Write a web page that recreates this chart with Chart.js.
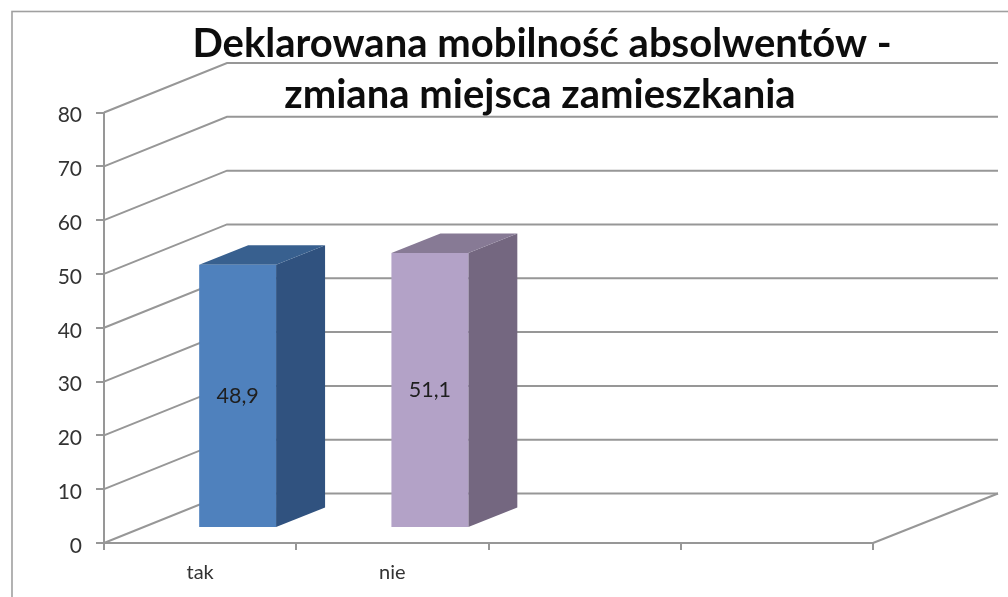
<!DOCTYPE html>
<html>
<head>
<meta charset="utf-8">
<title>Deklarowana mobilność absolwentów</title>
<script src="https://cdn.jsdelivr.net/npm/chart.js@4"></script>
<style>
    html, body { margin: 0; padding: 0; background: #fff; overflow: hidden; }
    canvas { display: block; }
</style>
</head>
<body>
<canvas id="chart" width="1008" height="597"></canvas>
<script>
// chart data
const titleLines = ['Deklarowana mobilność absolwentów -', 'zmiana miejsca zamieszkania'];
const categories = ['tak', 'nie', '', ''];
const values = [48.9, 51.1, null, null];
const frontColors = ['#4f81bd', '#b3a2c7'];
const sideColors = ['#30527f', '#746780'];
const topColors = ['#38608f', '#877a95'];

const lineColor = '#979797';
const fontName = 'Lato, "Noto Sans", sans-serif';

// 3D look: back wall offset, bar offset from the axis and bar depth
const wallDx = 123, wallDy = -49.5;
const barDx = 37.5, barDy = -15;
const depthDx = 49, depthDy = -19.5;

function fill4(ctx, color, pts) {
    ctx.fillStyle = color;
    ctx.beginPath();
    pts.forEach((p, i) => i ? ctx.lineTo(p[0], p[1]) : ctx.moveTo(p[0], p[1]));
    ctx.closePath();
    ctx.fill();
}

const fake3d = {
    id: 'fake3d',
    beforeDraw(chart) {
        // outer frame runs off the picture on the right and bottom
        const ctx = chart.ctx;
        ctx.save();
        ctx.strokeStyle = '#a0a0a0';
        ctx.lineWidth = 1.6;
        ctx.strokeRect(12, 11.5, 1100, 700);
        ctx.restore();
    },
    beforeDatasetsDraw(chart) {
        const ctx = chart.ctx;
        const y = chart.scales.y, area = chart.chartArea;
        ctx.save();
        // back wall lines
        ctx.strokeStyle = lineColor;
        ctx.lineWidth = 2;
        y.ticks.forEach(t => {
            const py = y.getPixelForValue(t.value);
            ctx.beginPath();
            ctx.moveTo(area.left, py);
            ctx.lineTo(area.left + wallDx, py + wallDy);
            ctx.lineTo(area.right + wallDx + 2, py + wallDy);
            ctx.stroke();
        });
        // floor edge on the right
        ctx.beginPath();
        ctx.moveTo(area.right, area.bottom);
        ctx.lineTo(area.right + wallDx + 2, area.bottom + wallDy);
        ctx.stroke();
        ctx.restore();

        // side and top of the bars, then the library draws the front face on top
        ctx.save();
        ctx.translate(barDx, barDy);
        chart.getDatasetMeta(0).data.forEach((bar, i) => {
            if (values[i] === null) return;
            const p = bar.getProps(['x', 'y', 'base', 'width'], true);
            const l = p.x - p.width / 2, r = p.x + p.width / 2;
            fill4(ctx, sideColors[i], [[r, p.y], [r + depthDx, p.y + depthDy], [r + depthDx, p.base + depthDy], [r, p.base]]);
            fill4(ctx, topColors[i], [[l, p.y], [l + depthDx, p.y + depthDy], [r + depthDx, p.y + depthDy], [r, p.y]]);
        });
    },
    afterDatasetsDraw(chart) {
        const ctx = chart.ctx;
        ctx.restore();
        ctx.save();
        // value labels
        ctx.fillStyle = '#1f1f1f';
        ctx.font = '21.5px ' + fontName;
        ctx.textAlign = 'center';
        ctx.textBaseline = 'middle';
        chart.getDatasetMeta(0).data.forEach((bar, i) => {
            if (values[i] === null) return;
            const p = bar.getProps(['x', 'y', 'base'], true);
            ctx.fillText(values[i].toFixed(1).replace('.', ','), p.x + barDx, (p.y + p.base) / 2 + barDy);
        });
        // title sits over the back wall, off centre
        ctx.fillStyle = '#0d0d0d';
        ctx.font = 'bold 40px ' + fontName;
        ctx.fillText(titleLines[0], 542, 44);
        ctx.fillText(titleLines[1], 540, 95);
        ctx.restore();
    }
};

new Chart(document.getElementById('chart').getContext('2d'), {
    type: 'bar',
    data: {
        labels: categories,
        datasets: [{ data: values, backgroundColor: frontColors, borderWidth: 0, barPercentage: 0.4, categoryPercentage: 1 }]
    },
    options: {
        responsive: false,
        animation: false,
        layout: { padding: { top: 112.5, right: 135, left: 0, bottom: 0 } },
        plugins: { legend: { display: false }, tooltip: { enabled: false } },
        scales: {
            x: {
                afterFit: s => { s.height = 54; },
                grid: { drawOnChartArea: false, color: lineColor, tickLength: 7, lineWidth: 2 },
                border: { color: lineColor, width: 2 },
                ticks: { color: '#333', font: { family: fontName, size: 20 }, padding: 11, maxRotation: 0, autoSkip: false }
            },
            y: {
                min: 0, max: 80,
                afterFit: s => { s.width = 104; },
                grid: { drawOnChartArea: false, color: lineColor, tickLength: 8, lineWidth: 2 },
                border: { color: lineColor, width: 2 },
                ticks: { stepSize: 10, color: '#333', font: { family: fontName, size: 21 }, padding: 14, labelOffset: 3 }
            }
        }
    },
    plugins: [fake3d]
});
</script>
</body>
</html>
